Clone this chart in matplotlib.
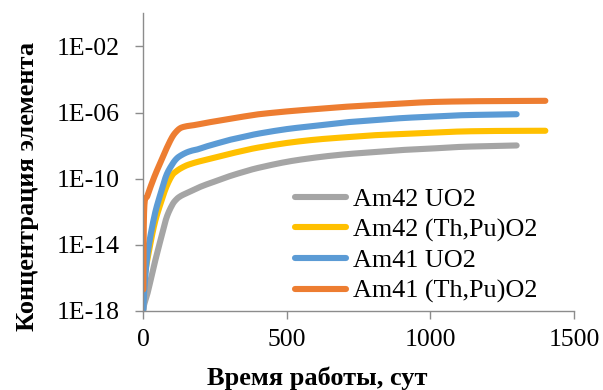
import matplotlib
matplotlib.use("Agg")
import matplotlib.pyplot as plt
import numpy as np
from matplotlib.ticker import FixedLocator, NullLocator

# Data (time, days)
t_uo2 = [0, 3, 15, 38, 60, 80, 100, 115, 130, 150, 170, 190, 220, 260, 300, 350, 400,
         500, 600, 700, 800, 900, 1000, 1100, 1200, 1300]
t_thpu = t_uo2 + [1400]

am42_uo2 = [1.0e-18, 2.5e-18, 1.26e-17, 6.3e-16, 2.0e-14, 4.0e-13, 2.5e-12, 5.6e-12, 8.9e-12,
            1.32e-11, 1.9e-11, 2.8e-11, 4.5e-11, 7.9e-11, 1.41e-10, 2.6e-10, 4.5e-10,
            1.05e-9, 1.9e-9, 2.95e-9, 4.0e-9, 5.4e-9, 6.6e-9, 8.3e-9, 9.3e-9, 1.02e-8]
am42_thpu = [3.16e-17, 1.0e-16, 1.58e-15, 1.58e-13, 3.16e-12, 3.16e-11, 1.58e-10, 2.8e-10,
             4.2e-10, 6.3e-10, 8.3e-10, 1.05e-9, 1.41e-9, 2.1e-9, 3.16e-9, 5.0e-9, 7.6e-9,
             1.45e-8, 2.3e-8, 3.16e-8, 4.2e-8, 5.0e-8, 6.0e-8, 7.1e-8, 7.6e-8, 7.8e-8, 7.9e-8]
am41_uo2 = [1.26e-18, 1.58e-17, 3.16e-15, 5.0e-13, 1.26e-11, 1.58e-10, 7.1e-10, 1.58e-9,
            2.5e-9, 3.8e-9, 5.0e-9, 6.0e-9, 8.9e-9, 1.41e-8, 2.2e-8, 3.4e-8, 5.25e-8,
            1.0e-7, 1.58e-7, 2.5e-7, 3.4e-7, 4.6e-7, 5.6e-7, 6.8e-7, 7.4e-7, 7.9e-7]
am41_thpu = [2.0e-17, 1.58e-12, 1.0e-11, 1.26e-10, 1.0e-9, 6.3e-9, 3.16e-8, 7.1e-8, 1.17e-7,
             1.48e-7, 1.66e-7, 1.9e-7, 2.4e-7, 3.16e-7, 4.2e-7, 5.75e-7, 7.8e-7, 1.17e-6,
             1.62e-6, 2.2e-6, 2.8e-6, 3.55e-6, 4.3e-6, 4.7e-6, 4.9e-6, 5.0e-6, 5.1e-6]

labels = ["Am42 UO2", "Am42 (Th,Pu)O2", "Am41 UO2", "Am41 (Th,Pu)O2"]
colors = ["#A5A5A5", "#FFC000", "#5B9BD5", "#ED7D31"]

ytick_vals = [1e-18, 1e-14, 1e-10, 1e-6, 1e-2]
ytick_labels = ["1E-18", "1E-14", "1E-10", "1E-06", "1E-02"]
xtick_vals = [0, 500, 1000, 1500]

plt.rcParams['font.family'] = ['Liberation Serif', 'DejaVu Serif']

fig = plt.figure(figsize=(6.03, 3.90), dpi=100)
ax = fig.add_axes([0.2377, 0.2026, 0.952 - 0.2377, 0.9659 - 0.2026])
ax.set_yscale('log')
ax.set_ylim(1e-18, 1e0)
ax.set_xlim(0, 1500)


def smooth_line(x, y, n=12):
    """Excel-style smoothed line: Catmull-Rom through the points in display space."""
    pts = ax.transData.transform(np.column_stack([x, y]))
    p = np.vstack([pts[0], pts, pts[-1]])
    out = [pts[0]]
    for i in range(1, len(p) - 2):
        p0, p1, p2, p3 = p[i - 1], p[i], p[i + 1], p[i + 2]
        for s in np.linspace(0, 1, n + 1)[1:]:
            s2, s3 = s * s, s * s * s
            out.append(0.5 * ((2 * p1) + (-p0 + p2) * s + (2 * p0 - 5 * p1 + 4 * p2 - p3) * s2
                              + (-p0 + 3 * p1 - 3 * p2 + p3) * s3))
    d = ax.transData.inverted().transform(np.array(out))
    return d[:, 0], d[:, 1]


series = [(t_uo2, am42_uo2), (t_thpu, am42_thpu), (t_uo2, am41_uo2), (t_thpu, am41_thpu)]
for (tt, yy), lab, c in zip(series, labels, colors):
    sx, sy = smooth_line(tt, yy)
    ax.plot(sx, sy, color=c, lw=4.4, solid_capstyle='round', solid_joinstyle='round', label=lab)

ax.yaxis.set_major_locator(FixedLocator(ytick_vals))
ax.yaxis.set_minor_locator(NullLocator())
ax.set_yticklabels(ytick_labels)
ax.set_xticks(xtick_vals)
ax.set_xticklabels([str(v) for v in xtick_vals])

for s in ['top', 'right']:
    ax.spines[s].set_visible(False)
for s in ['left', 'bottom']:
    ax.spines[s].set_color('#8C8C8C')
    ax.spines[s].set_linewidth(1.0)
ax.tick_params(axis='both', colors='#8C8C8C', length=6, width=1.0, labelsize=18.5,
               labelcolor='black')
ax.tick_params(axis='y', pad=11)
ax.tick_params(axis='x', pad=7)

ax.set_xlabel("Время работы, сут", fontsize=19, fontweight='bold', va='center')
ax.xaxis.set_label_coords(0.403, -0.225)
ax.set_ylabel("Концентрация элемента", fontsize=19, fontweight='bold', va='center')
ax.yaxis.set_label_coords(-0.27, 0.42)

leg = ax.legend(loc='upper left', bbox_to_anchor=(0.353, 0.415), frameon=False, fontsize=18.8,
                handlelength=1.95, handletextpad=0.25, labelspacing=0.28,
                borderaxespad=0, borderpad=0)

fig.savefig("out.png", dpi=100)
